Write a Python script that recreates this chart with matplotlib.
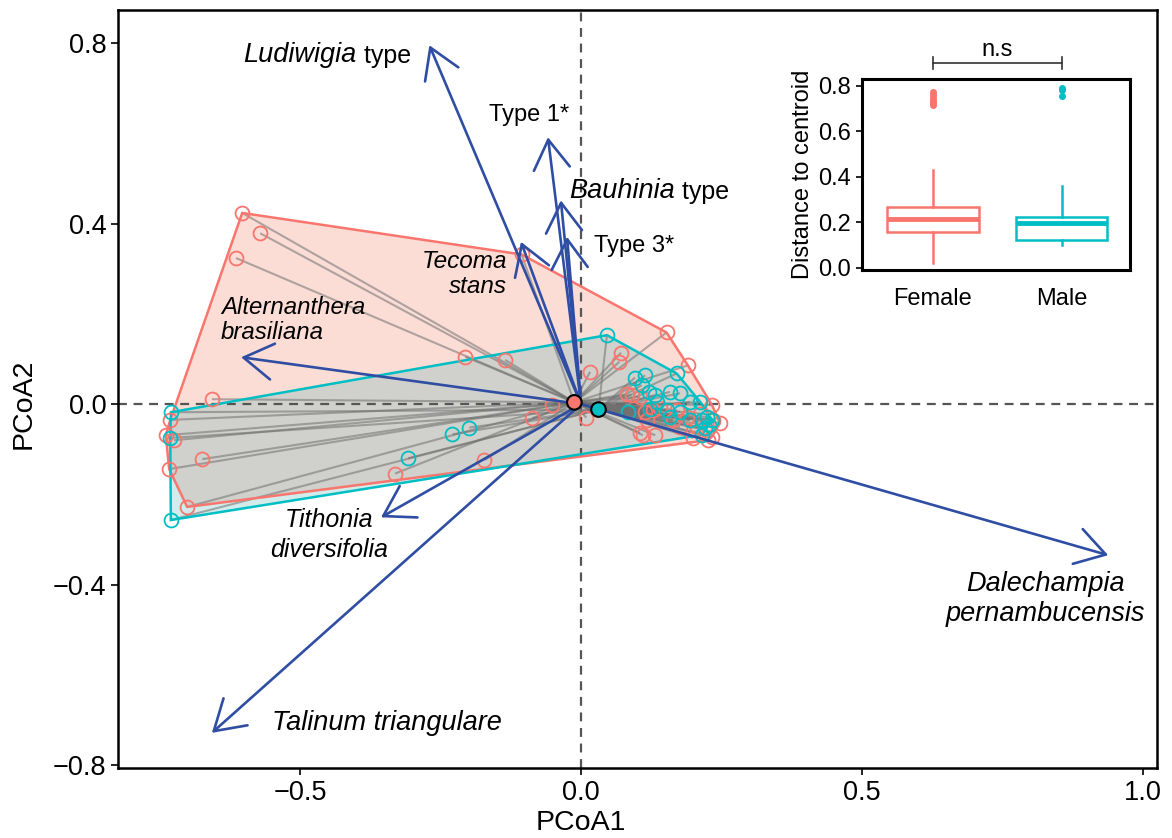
import numpy as np
import matplotlib
matplotlib.use('Agg')
import matplotlib.pyplot as plt
from matplotlib.collections import LineCollection
from matplotlib.patches import Polygon

plt.rcParams['font.family'] = ['Liberation Sans', 'DejaVu Sans']

# Sample scores (PCoA1, PCoA2)
female_x = [-0.603, -0.571, -0.614, -0.657, -0.731, -0.739, -0.724, -0.733, -0.674, -0.701,
            -0.206, -0.135, -0.172, -0.331, -0.106, -0.052, -0.087,
            0.152, 0.190, 0.071, 0.068, 0.016, 0.009, 0.081, 0.090, 0.105, 0.105, 0.132,
            0.110, 0.117, 0.114, 0.141, 0.128, 0.163, 0.176, 0.194, 0.206, 0.233, 0.235,
            0.247, 0.224, 0.233, 0.188, 0.170, 0.212, 0.226, 0.200]
female_y = [0.424, 0.379, 0.324, 0.011, -0.035, -0.069, -0.080, -0.144, -0.122, -0.228,
            0.105, 0.098, -0.124, -0.154, 0.332, -0.002, -0.031,
            0.159, 0.086, 0.114, 0.094, 0.072, -0.030, 0.022, 0.020, 0.016, -0.064, -0.069,
            -0.069, -0.035, -0.017, -0.009, -0.013, -0.035, -0.050, -0.035, -0.050, -0.002, -0.035,
            -0.042, -0.058, -0.072, -0.028, -0.013, -0.021, -0.080, -0.075]
male_x = [-0.730, -0.731, -0.730, -0.229, -0.199, -0.308,
          0.046, 0.170, 0.096, 0.114, 0.108, 0.120, 0.132, 0.158, 0.176, 0.135, 0.123,
          0.084, 0.152, 0.158, 0.194, 0.212, 0.194, 0.215, 0.224, 0.227, 0.221, 0.233,
          0.176, 0.215]
male_y = [-0.018, -0.075, -0.257, -0.067, -0.052, -0.120,
          0.153, 0.068, 0.059, 0.064, 0.042, 0.027, 0.020, 0.027, 0.024, 0.005, -0.010,
          -0.017, -0.013, -0.028, 0.005, 0.005, -0.035, -0.035, -0.028, -0.047, -0.054, -0.035,
          -0.017, -0.068]
centroid_x = [-0.012, 0.031]
centroid_y = [0.004, -0.012]

# Species vectors
species = ['Ludiwigia type', 'Type 1*', 'Bauhinia type', 'Type 3*', 'Tecoma stans',
           'Alternanthera brasiliana', 'Tithonia diversifolia', 'Talinum triangulare',
           'Dalechampia pernambucensis']
arrow_x = [-0.270, -0.059, -0.036, -0.025, -0.107, -0.605, -0.356, -0.657, 0.938]
arrow_y = [0.796, 0.592, 0.452, 0.371, 0.360, 0.104, -0.251, -0.729, -0.335]

# Inset boxplot stats (distance to centroid)
groups = ['Female', 'Male']
box_med = [0.215, 0.196]
box_q1 = [0.155, 0.123]
box_q3 = [0.266, 0.225]
box_lo = [0.023, 0.101]
box_hi = [0.430, 0.361]
box_fliers = [[0.715, 0.725, 0.735, 0.745, 0.760, 0.773], [0.757, 0.780, 0.790]]

RED = '#F8766D'
CYAN = '#00BFC4'
ARROW_COLOR = '#2F4EA3'


def convex_hull(xs, ys):
    pts = sorted(set(zip(xs, ys)))
    def cross(o, a, b):
        return (a[0]-o[0])*(b[1]-o[1]) - (a[1]-o[1])*(b[0]-o[0])
    lower, upper = [], []
    for p in pts:
        while len(lower) >= 2 and cross(lower[-2], lower[-1], p) <= 0:
            lower.pop()
        lower.append(p)
    for p in reversed(pts):
        while len(upper) >= 2 and cross(upper[-2], upper[-1], p) <= 0:
            upper.pop()
        upper.append(p)
    return np.array(lower[:-1] + upper[:-1])


fig = plt.figure(figsize=(11.72, 8.38), dpi=100)
ax = fig.add_axes([0.1007, 0.0835, 0.8866, 0.9045])
ax.set_xlim(-0.824, 1.025)
ax.set_ylim(-0.807, 0.874)

fh = convex_hull(female_x, female_y)
mh = convex_hull(male_x, male_y)

# hull fills (overlap drawn grey)
fpoly = Polygon(fh, closed=True, facecolor='#FBDDD6', edgecolor='none', zorder=1)
ax.add_patch(fpoly)
ax.add_patch(Polygon(mh, closed=True, facecolor='#D2ECEC', edgecolor='none', zorder=1.1))
overlap = Polygon(mh, closed=True, facecolor='#D0D0CC', edgecolor='none', zorder=1.2)
ax.add_patch(overlap)
overlap.set_clip_path(fpoly)

# reference lines
ax.axhline(0, color='#555555', ls=(0, (4, 3)), lw=1.6, zorder=1.5)
ax.axvline(0, color='#555555', ls=(0, (4, 3)), lw=1.6, zorder=1.5)

# spider lines
segs = [[(x, y), (centroid_x[0], centroid_y[0])] for x, y in zip(female_x, female_y)]
segs += [[(x, y), (centroid_x[1], centroid_y[1])] for x, y in zip(male_x, male_y)]
ax.add_collection(LineCollection(segs, colors='#707070', linewidths=1.5, alpha=0.55, zorder=2))

# hull outlines
ax.add_patch(Polygon(fh, closed=True, fill=False, edgecolor=RED, lw=1.8, zorder=3))
ax.add_patch(Polygon(mh, closed=True, fill=False, edgecolor=CYAN, lw=1.8, zorder=3))

# points
ax.plot(female_x, female_y, 'o', ms=10, mfc='none', mec=RED, mew=1.3, zorder=4)
ax.plot(male_x, male_y, 'o', ms=10, mfc='none', mec=CYAN, mew=1.3, zorder=4)
ax.scatter(centroid_x, centroid_y, s=110, c=[RED, CYAN], edgecolors='black', linewidths=1.5, zorder=6)

# species arrows
for x, y in zip(arrow_x, arrow_y):
    ax.annotate('', xy=(x, y), xytext=(0, 0),
                arrowprops=dict(arrowstyle='->,head_length=1.05,head_width=0.65', mutation_scale=20,
                                lw=1.9, color=ARROW_COLOR, shrinkA=0, shrinkB=0), zorder=5)

FS = 17     # upright labels
FI = 19.5   # italic species names
t = ax.text(-0.601, 0.774, 'Ludiwigia', style='italic', fontsize=FI, va='center')
ax.annotate(' type', xy=(1, 0), xycoords=t, va='bottom', fontsize=18)
ax.text(-0.164, 0.641, 'Type 1*', fontsize=FS, va='center')
t = ax.text(-0.021, 0.472, 'Bauhinia', style='italic', fontsize=FI, va='center')
ax.annotate(' type', xy=(1, 0), xycoords=t, va='bottom', fontsize=18)
ax.text(0.023, 0.350, 'Type 3*', fontsize=FS, va='center')
ax.text(-0.132, 0.288, 'Tecoma\nstans', style='italic', fontsize=17.5, ha='right', va='center',
        multialignment='right', linespacing=1.09)
ax.text(-0.641, 0.187, 'Alternanthera\nbrasiliana', style='italic', fontsize=17.3, ha='left',
        va='center', linespacing=1.1)
ax.text(-0.448, -0.290, 'Tithonia\ndiversifolia', style='italic', fontsize=18, ha='center',
        va='center', linespacing=1.32)
ax.text(0.826, -0.432, 'Dalechampia\npernambucensis', style='italic', fontsize=FI, ha='center',
        va='center', linespacing=1.22)
ax.text(-0.550, -0.707, 'Talinum triangulare', style='italic', fontsize=FI, va='center')

ax.set_xticks([-0.5, 0.0, 0.5, 1.0])
ax.set_xticklabels(['\u22120.5', '0.0', '0.5', '1.0'])
ax.set_yticks([-0.8, -0.4, 0.0, 0.4, 0.8])
ax.set_yticklabels(['\u22120.8', '\u22120.4', '0.0', '0.4', '0.8'])
ax.tick_params(labelsize=19.5, length=5, width=1.2, color='black')
ax.set_xlabel('PCoA1', fontsize=20.5)
ax.set_ylabel('PCoA2', fontsize=20.5)
# axis titles sit under / beside the zero lines
ax.xaxis.set_label_coords((0 - (-0.824)) / (1.025 + 0.824), -0.055)
ax.yaxis.set_label_coords(-0.078, (0 - (-0.807)) / (0.874 + 0.807))
for s in ax.spines.values():
    s.set_linewidth(1.8)

# inset boxplot
ax_in = fig.add_axes([0.7355, 0.6778, 0.2287, 0.2279])
stats = []
for i in range(2):
    stats.append(dict(med=box_med[i], q1=box_q1[i], q3=box_q3[i], whislo=box_lo[i],
                      whishi=box_hi[i], fliers=box_fliers[i], label=groups[i]))
bp = ax_in.bxp(stats, positions=[1, 2], widths=0.71, patch_artist=True)
for i, c in enumerate([RED, CYAN]):
    bp['boxes'][i].set(facecolor='white', edgecolor=c, lw=1.8)
    bp['medians'][i].set(color=c, lw=3.5)
    for w in bp['whiskers'][2*i:2*i+2]:
        w.set(color=c, lw=1.8)
    for cap in bp['caps'][2*i:2*i+2]:
        cap.set(visible=False)
    bp['fliers'][i].set(marker='o', markerfacecolor=c, markeredgecolor=c, markersize=4)
ax_in.set_xlim(0.45, 2.53)
ax_in.set_ylim(-0.01, 0.83)
ax_in.set_yticks([0.0, 0.2, 0.4, 0.6, 0.8])
ax_in.set_yticklabels(['0.0', '0.2', '0.4', '0.6', '0.8'])
ax_in.tick_params(axis='y', labelsize=17, length=4, width=1.2, pad=4)
ax_in.tick_params(axis='x', labelsize=17, length=0, pad=13)
ax_in.set_ylabel('Distance to centroid', fontsize=17, labelpad=3)
for s in ax_in.spines.values():
    s.set_linewidth(2.2)

# significance bracket
ax_in.plot([1, 2], [0.899, 0.899], color='#333333', lw=1.2, clip_on=False)
ax_in.plot([1, 1], [0.873, 0.925], color='#333333', lw=1.2, clip_on=False)
ax_in.plot([2, 2], [0.873, 0.925], color='#333333', lw=1.2, clip_on=False)
ax_in.text(1.5, 0.91, 'n.s', fontsize=17, ha='center', va='bottom')

fig.savefig('out.png', dpi=100)
